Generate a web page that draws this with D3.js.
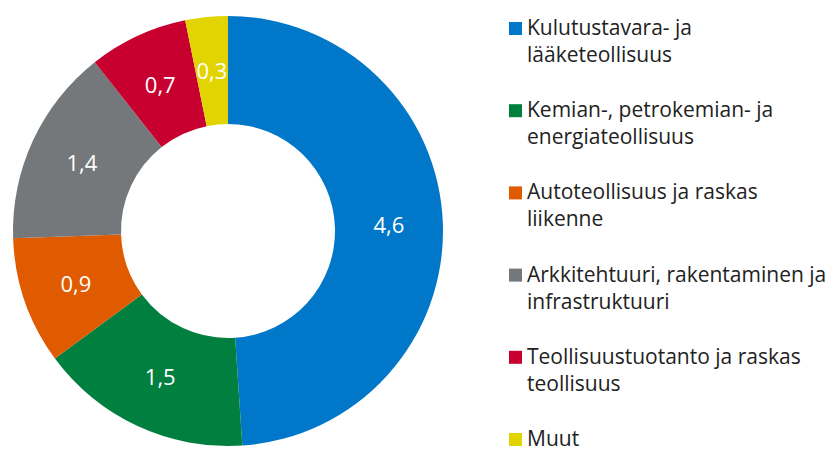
<!DOCTYPE html>
<html><head><meta charset="utf-8"><title>Donitsikaavio</title>
<style>
body { margin: 0; background: #fff; }
svg { display: block; }
.legend text { font-family: "Open Sans", Arial, sans-serif; font-size: 21px; fill: #222; }
.lbl { font-family: "Open Sans", Arial, sans-serif; font-size: 22px; fill: #fff; }
</style>
<script src="https://d3js.org/d3.v7.min.js"></script>
</head>
<body>
<div id="chart"></div>
<script>
const categories = [
    ["Kulutustavara- ja", "lääketeollisuus"],
    ["Kemian-, petrokemian- ja", "energiateollisuus"],
    ["Autoteollisuus ja raskas", "liikenne"],
    ["Arkkitehtuuri, rakentaminen ja", "infrastruktuuri"],
    ["Teollisuustuotanto ja raskas", "teollisuus"],
    ["Muut"]
];
const values = [4.6, 1.5, 0.9, 1.4, 0.7, 0.3];
const colors = ["#0077c8", "#007f3f", "#e05a00", "#74787a", "#c8002f", "#e2d400"];

const width = 837;
const height = 453;

const svg = d3.select("#chart")
    .append("svg")
    .attr("width", width)
    .attr("height", height);

// donut
const cx = 228, cy = 231;
const outerR = 215, innerR = 107;

const pie = d3.pie().sort(null).value(d => d);
const arc = d3.arc().innerRadius(innerR).outerRadius(outerR);
const color = d3.scaleOrdinal().domain(d3.range(values.length)).range(colors);

const g = svg.append("g").attr("transform", `translate(${cx},${cy})`);
const arcs = pie(values);

g.selectAll("path")
    .data(arcs)
    .join("path")
    .attr("d", arc)
    .attr("fill", (d, i) => color(i));

g.selectAll("text")
    .data(arcs)
    .join("text")
    .attr("class", "lbl")
    .attr("transform", d => `translate(${arc.centroid(d)})`)
    .attr("text-anchor", "middle")
    .attr("dy", "0.35em")
    .text(d => d3.format(".1f")(d.data).replace(".", ","));

// legend
const legendY = d3.scalePoint()
    .domain(d3.range(categories.length))
    .range([35, 446]);

const legend = svg.append("g").attr("class", "legend");
const item = legend.selectAll("g")
    .data(categories)
    .join("g")
    .attr("transform", (d, i) => `translate(509,${legendY(i)})`);

item.append("rect")
    .attr("x", 0)
    .attr("y", -13)
    .attr("width", 13)
    .attr("height", 13)
    .attr("fill", (d, i) => color(i));

item.append("text")
    .selectAll("tspan")
    .data(d => d)
    .join("tspan")
    .attr("x", 18)
    .attr("y", (d, j) => j * 27)
    .text(d => d);
</script>
</body></html>
